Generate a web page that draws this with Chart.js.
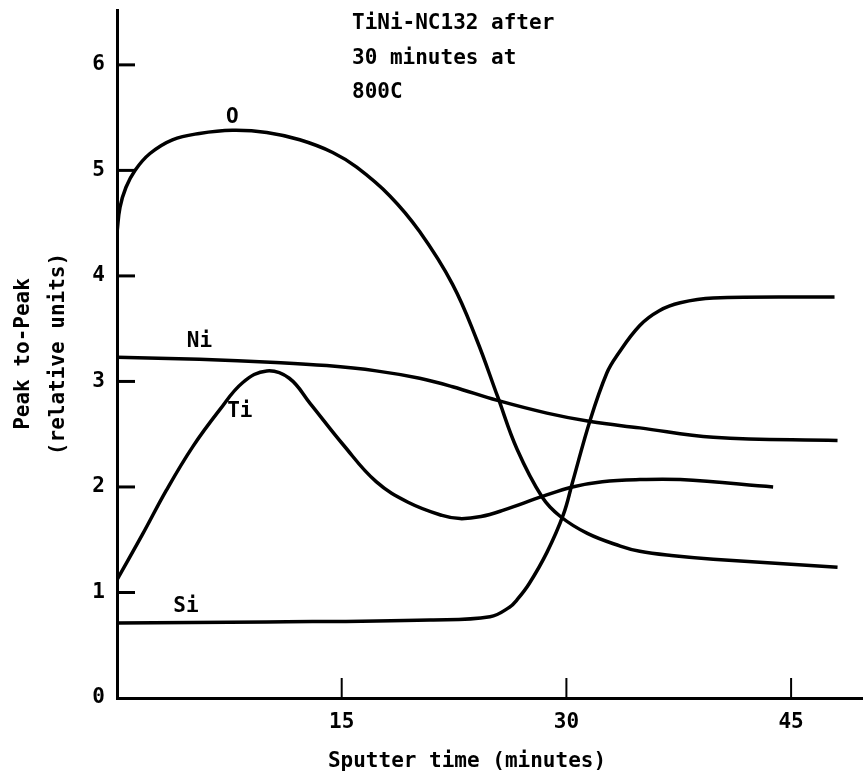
<!DOCTYPE html>
<html>
<head>
<meta charset="utf-8">
<title>TiNi-NC132 sputter profile</title>
<script src="https://cdn.jsdelivr.net/npm/chart.js@4.4.1/dist/chart.umd.min.js"></script>
<style>
  html, body { margin: 0; padding: 0; background: #fff; }
  #wrap { width: 863px; height: 782px; position: relative; }
</style>
</head>
<body>
<div id="wrap"><canvas id="profileChart"></canvas></div>
<script>
// Peak-to-peak Auger signal vs. sputter time (minutes) for each element
const oTime  = [0, 0.2, 0.6, 1.2, 2.2, 3.7, 5.5, 7.7, 10.0, 12.2, 14.4, 16.0, 18.2, 20.2, 22.4, 24.0, 25.4, 26.7, 28.4, 29.6, 31.4, 33.6, 34.9, 37.0, 39.8, 48.1];
const oPeak  = [4.41, 4.65, 4.84, 5.00, 5.16, 5.29, 5.35, 5.38, 5.36, 5.29, 5.17, 5.03, 4.76, 4.42, 3.92, 3.40, 2.86, 2.36, 1.90, 1.72, 1.56, 1.44, 1.39, 1.35, 1.315, 1.24];

const niTime = [0, 5.5, 10.6, 14.0, 17.3, 20.2, 22.4, 25.4, 28.7, 31.6, 34.9, 39.8, 48.1];
const niPeak = [3.23, 3.21, 3.18, 3.15, 3.10, 3.03, 2.95, 2.82, 2.70, 2.62, 2.56, 2.47, 2.44];

const tiTime = [0, 1.7, 3.3, 5.05, 6.85, 8.4, 10.0, 11.5, 12.9, 15.1, 17.3, 19.5, 21.7, 22.9, 24.3, 25.8, 28.4, 30.4, 32.4, 34.9, 37.6, 43.8];
const tiPeak = [1.12, 1.55, 1.97, 2.38, 2.73, 2.99, 3.10, 3.03, 2.79, 2.40, 2.05, 1.85, 1.73, 1.70, 1.72, 1.78, 1.91, 2.00, 2.05, 2.07, 2.07, 2.00];

const siTime = [0, 10.0, 20.9, 24.9, 26.2, 26.7, 27.5, 28.7, 29.8, 30.4, 31.6, 32.7, 33.4, 34.9, 36.2, 37.6, 39.8, 47.9];
const siPeak = [0.71, 0.72, 0.74, 0.77, 0.86, 0.93, 1.08, 1.38, 1.74, 2.04, 2.64, 3.08, 3.25, 3.53, 3.67, 3.745, 3.79, 3.80];

const xTicks = [15, 30, 45];
const yTicks = [1, 2, 3, 4, 5, 6];
const noteLines = ['TiNi-NC132 after', '30 minutes at', '800C'];

const FONT = '"DejaVu Sans Mono", "Liberation Mono", monospace';

function toPoints(xs, ys) {
  return xs.map((x, i) => ({ x: x, y: ys[i] }));
}

function curve(label, xs, ys) {
  return {
    label: label,
    data: toPoints(xs, ys),
    borderColor: '#000',
    borderWidth: 3.5,
    pointRadius: 0,
    fill: false,
    tension: 0.4
  };
}

// tick marks pointing into the plot, element names and the sample note
const annotations = {
  id: 'annotations',
  afterDraw(chart) {
    const { ctx, chartArea, scales: { x, y } } = chart;
    ctx.save();
    ctx.strokeStyle = '#000';
    ctx.lineCap = 'butt';

    ctx.lineWidth = 3;
    yTicks.forEach(v => {
      const py = y.getPixelForValue(v);
      ctx.beginPath();
      ctx.moveTo(chartArea.left, py);
      ctx.lineTo(chartArea.left + 18, py);
      ctx.stroke();
    });

    ctx.lineWidth = 2;
    xTicks.forEach(v => {
      const px = x.getPixelForValue(v);
      ctx.beginPath();
      ctx.moveTo(px, chartArea.bottom);
      ctx.lineTo(px, chartArea.bottom - 20);
      ctx.stroke();
    });

    ctx.fillStyle = '#000';
    ctx.textAlign = 'center';
    ctx.textBaseline = 'middle';
    ctx.font = 'bold 21px ' + FONT;
    [['O', 7.7, 5.50], ['Ni', 5.5, 3.38], ['Ti', 8.2, 2.71], ['Si', 4.6, 0.87]].forEach(([t, dx, dy]) => {
      ctx.fillText(t, x.getPixelForValue(dx), y.getPixelForValue(dy));
    });

    ctx.textAlign = 'left';
    noteLines.forEach((t, i) => ctx.fillText(t, 352, 24 + i * 34.5));

    ctx.textAlign = 'center';
    ctx.fillText('Sputter time (minutes)', 467, 762);
    ctx.restore();
  }
};

const ctx = document.getElementById('profileChart').getContext('2d');
const profileChart = new Chart(ctx, {
  type: 'line',
  data: {
    datasets: [
      curve('O', oTime, oPeak),
      curve('Ni', niTime, niPeak),
      curve('Ti', tiTime, tiPeak),
      curve('Si', siTime, siPeak)
    ]
  },
  options: {
    responsive: true,
    maintainAspectRatio: false,
    animation: false,
    layout: { padding: { top: 10, right: 0, bottom: 0, left: 0 } },
    plugins: {
      legend: { display: false },
      tooltip: { enabled: false }
    },
    scales: {
      x: {
        type: 'linear',
        min: 0,
        max: 49.8,
        grid: { display: false, drawTicks: false },
        border: { display: true, color: '#000', width: 3 },
        ticks: {
          stepSize: 15,
          includeBounds: false,
          padding: 12,
          color: '#000',
          font: { family: FONT, size: 21, weight: 'bold' },
          callback: v => (v === 0 ? '' : v)
        },
        afterFit(scale) {
          scale.height = 84;
          scale.paddingLeft = 0;
          scale.paddingRight = 0;
        }
      },
      y: {
        min: 0,
        max: 6.52,
        grid: { display: false, drawTicks: false },
        border: { display: true, color: '#000', width: 3 },
        ticks: {
          stepSize: 1,
          includeBounds: false,
          padding: 12,
          color: '#000',
          font: { family: FONT, size: 21, weight: 'bold' }
        },
        title: {
          display: true,
          text: ['Peak to-Peak', '(relative units)'],
          color: '#000',
          font: { family: FONT, size: 21, weight: 'bold', lineHeight: 1.667 },
          padding: { top: 6, bottom: 0 }
        },
        afterFit(scale) {
          scale.width = 117;
          scale.paddingTop = 0;
          scale.paddingBottom = 0;
        }
      }
    }
  },
  plugins: [annotations]
});
</script>
</body>
</html>
